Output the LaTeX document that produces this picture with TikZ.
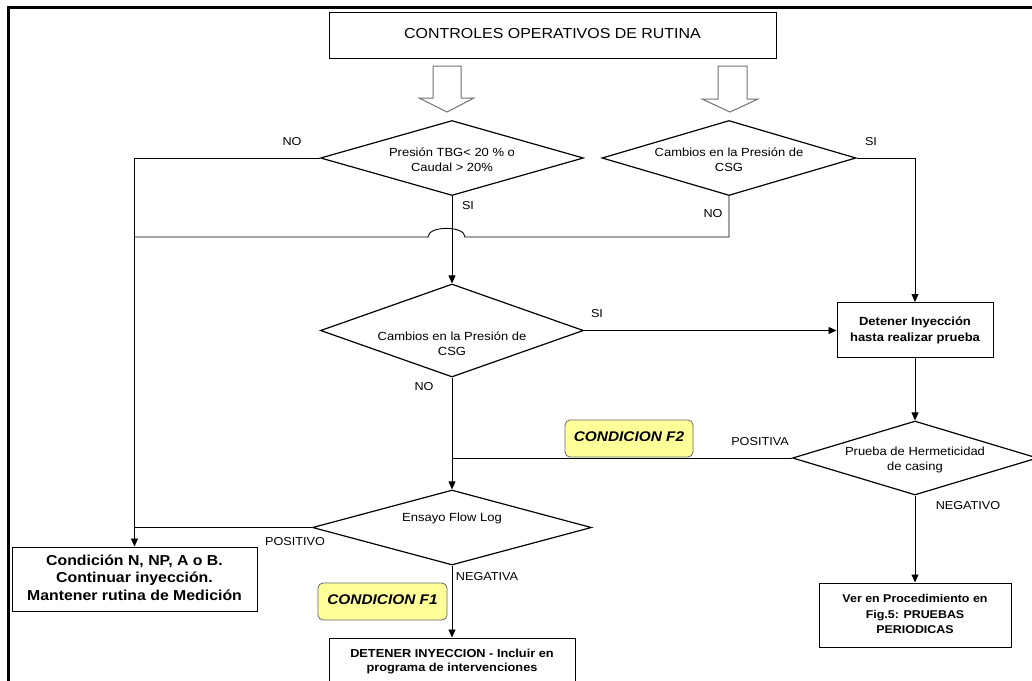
\documentclass[tikz,border=0pt]{standalone}
\usepackage{fontspec}
\setmainfont{Liberation Sans}
\usetikzlibrary{shapes.geometric,arrows.meta,calc}
\definecolor{condyellow}{HTML}{FFFF99}
\newcommand{\tx}[1]{\scalebox{1.1}[1]{\begin{tabular}{@{}c@{}}#1\end{tabular}}}
\begin{document}
\begin{tikzpicture}[x=1pt,y=-1pt,
 conn/.style={line width=0.9pt},
 arr/.style={conn,-{Triangle[length=8pt,width=7pt]}},
 dec/.style={diamond,draw,line width=1.2pt,inner sep=0pt},
 box/.style={rectangle,draw,line width=1pt,inner sep=0pt,fill=white},
 cnd/.style={rectangle,rounded corners=5pt,draw=black!60,line width=0.8pt,fill=condyellow,inner sep=0pt,minimum width=128pt,minimum height=37pt,font={\bfseries\itshape\fontsize{14}{16}\selectfont}},
 lbl/.style={inner sep=0pt,font={\fontsize{11.5}{13}\selectfont}},
 dtxt/.style={inner sep=0pt,font={\fontsize{11.8}{15}\selectfont}},
 hollow/.style={draw=black!55,line width=1pt,fill=white}]
\clip (0,0) rectangle (1032,680);
\fill[white] (0,0) rectangle (1032,680);
\draw[line width=3pt] (8.5,700) -- (8.5,7) -- (1050,7);

% boxes
\node[box,minimum width=447pt,minimum height=46pt,font={\fontsize{14.5}{16}\selectfont}] (top) at (552.5,35) {\tx{CONTROLES OPERATIVOS DE RUTINA}};
\node[box,minimum width=156pt,minimum height=55pt,font={\bfseries\fontsize{11.8}{16}\selectfont}] (det) at (915,330) {\tx{Detener Inyección\\hasta realizar prueba}};
\node[box,minimum width=245pt,minimum height=64pt,font={\bfseries\fontsize{14.4}{17.5}\selectfont}] (cond) at (134.5,579) {\tx{Condición N, NP, A o B.\\Continuar inyección.\\Mantener rutina de Medición}};
\node[box,minimum width=192pt,minimum height=64pt,font={\bfseries\fontsize{11.3}{15.5}\selectfont}] (ver) at (915,615) {\tx{Ver en Procedimiento en\\Fig.5: PRUEBAS\\PERIODICAS}};
\node[box,minimum width=246pt,minimum height=48pt,font={\bfseries\fontsize{11.6}{13.5}\selectfont}] (stop) at (452,662) {\tx{DETENER INYECCION - Incluir en\\programa de intervenciones}};

% decisions
\node[dec,minimum width=263pt,minimum height=75pt] (d1) at (452,158) {};
\node[dec,minimum width=254pt,minimum height=75pt] (d2) at (729,158) {};
\node[dec,minimum width=263pt,minimum height=93pt] (d3) at (452,330.5) {};
\node[dec,minimum width=245pt,minimum height=74pt] (d4) at (915,458) {};
\node[dec,minimum width=279pt,minimum height=75pt] (d5) at (452,527.5) {};
\node[dtxt] (d1t) at (452,161) {\tx{Presión TBG< 20 \% o\\Caudal > 20\%}};
\node[dtxt] (d2t) at (729,161) {\tx{Cambios en la Presión de\\CSG}};
\node[dtxt] (d3t) at (452,345) {\tx{Cambios en la Presión de\\CSG}};
\node[dtxt] (d4t) at (915,460) {\tx{Prueba de Hermeticidad\\de casing}};
\node[dtxt] (d5t) at (452,518) {\tx{Ensayo Flow Log}};

% hollow block arrows
\draw[hollow] (433,66) -- (461,66) -- (461,98) -- (474,98) -- (447,112) -- (419,98) -- (433,98) -- cycle;
\draw[hollow] (718,66) -- (747,66) -- (747,99) -- (758,99) -- (730,112) -- (702,99) -- (718,99) -- cycle;

% connectors
\coordinate (hopR) at (465,237);
\coordinate (hopL) at (428,237);
\draw[arr] (d1.west) -| (cond.north);
\draw[conn] (d2.south) |- (hopR) .. controls (465,225.5) and (428,225.5) .. (hopL) -- (hopL -| cond.north);
\draw[arr] (d1.south) -- (d3.north);
\draw[arr] (d2.east) -| (det.north);
\draw[arr] (d3.east) -- (d3.east -| det.west);
\draw[arr] (det.south) -- (d4.north);
\draw[conn] (d4.west) -- (d4.west -| d3.south);
\draw[arr] (d3.south) -- (d5.north);
\draw[conn] (d5.west) -- (d5.west -| cond.north);
\draw[arr] (d5.south) -- (stop.north);
\draw[arr] (d4.south) -- (ver.north);

% condition tags
\node[cnd] (f2) at (629,438.5) {\tx{CONDICION F2}};
\node[cnd,minimum width=129pt] (f1) at (382.5,601.5) {\tx{CONDICION F1}};

% labels
\node[lbl] (l1) at (292,143) {\tx{NO}};
\node[lbl] (l2) at (871,143) {\tx{SI}};
\node[lbl] (l3) at (468,207) {\tx{SI}};
\node[lbl] (l4) at (713,215) {\tx{NO}};
\node[lbl] (l5) at (597,315) {\tx{SI}};
\node[lbl] (l6) at (424,388) {\tx{NO}};
\node[lbl] (l7) at (760,443) {\tx{POSITIVA}};
\node[lbl] (l8) at (968,507) {\tx{NEGATIVO}};
\node[lbl] (l9) at (295,543) {\tx{POSITIVO}};
\node[lbl] (l10) at (487,578) {\tx{NEGATIVA}};
\end{tikzpicture}
\end{document}
